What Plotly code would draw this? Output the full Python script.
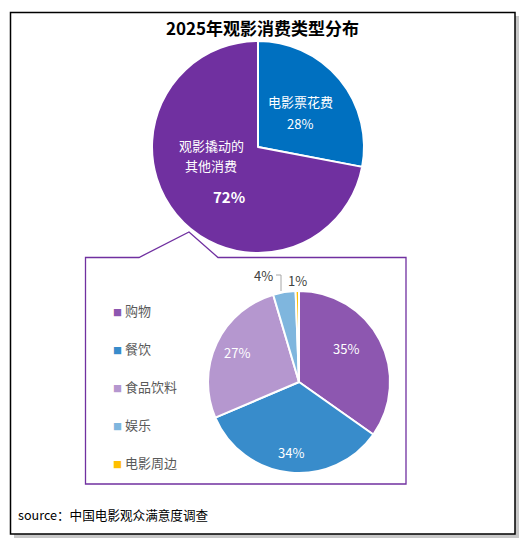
import plotly.graph_objects as go

W, H = 524, 549

# ---- data ----
main_labels = ["电影票花费", "观影撬动的<br>其他消费"]
main_values = [28, 72]
main_text = ["28%", "72%"]
main_colors = ["#0070C0", "#7030A0"]

sub_labels = ["购物", "餐饮", "食品饮料", "娱乐", "电影周边"]
sub_values = [35, 34, 27, 4, 0.6]
sub_text = ["35%", "34%", "27%", "4%", "1%"]
sub_colors = ["#8D57B0", "#388CCB", "#B597CF", "#7FB6DE", "#FFC000"]

title_text = "2025年观影消费类型分布"
source_text = "source：中国电影观众满意度调查"

FONT = "Noto Sans CJK SC, Microsoft YaHei, sans-serif"


def px(x):
    return x / W


def py(y):
    return 1 - y / H


fig = go.Figure()

# main pie
fig.add_trace(go.Pie(
    labels=main_labels, values=main_values, sort=False, direction="clockwise",
    rotation=0, marker=dict(colors=main_colors, line=dict(color="white", width=2)),
    textinfo="none", hoverinfo="label+percent", showlegend=False,
    domain=dict(x=[px(152), px(364)], y=[py(253), py(41)]),
))

# sub pie
fig.add_trace(go.Pie(
    labels=sub_labels, values=sub_values, sort=False, direction="clockwise",
    rotation=0, marker=dict(colors=sub_colors, line=dict(color="white", width=2)),
    textinfo="none", showlegend=False,
    domain=dict(x=[px(208), px(390)], y=[py(473), py(291)]),
))

# legend via dummy traces
for lab, col in zip(sub_labels, sub_colors):
    fig.add_trace(go.Scatter(
        x=[None], y=[None], mode="markers", legendgroup=lab,
        name='<span style="color:%s;font-size:9px">■</span> %s' % (col, lab),
        marker=dict(symbol="square", size=1, color="rgba(0,0,0,0)"),
    ))

shapes = []
# shadow
shapes.append(dict(type="rect", xref="paper", yref="paper",
                   x0=px(14), x1=px(519), y0=py(538), y1=py(16),
                   fillcolor="#c8c8c8", line=dict(width=0), layer="below"))
# outer frame
shapes.append(dict(type="rect", xref="paper", yref="paper",
                   x0=px(10.5), x1=px(515), y0=py(534), y1=py(12.5),
                   fillcolor="white", line=dict(color="black", width=1.5), layer="below"))
# callout box
path = "M {} {} L {} {} L {} {} L {} {} L {} {} L {} {} L {} {} Z".format(
    px(85.5), py(484), px(85.5), py(257.5), px(139), py(257.5), px(189), py(232),
    px(218), py(257.5), px(406), py(257.5), px(406), py(484))
shapes.append(dict(type="path", xref="paper", yref="paper", path=path,
                   line=dict(color="#7030A0", width=1.3), layer="below"))
# leader line for 4%
lp = "M {} {} L {} {} L {} {}".format(px(276), py(275), px(281), py(275), px(281), py(291))
shapes.append(dict(type="path", xref="paper", yref="paper", path=lp,
                   line=dict(color="#a6a6a6", width=1)))


def ann(text, x, y, size=13, color="white", xanchor="center"):
    return dict(text=text, x=px(x), y=py(y), xref="paper", yref="paper",
                xanchor=xanchor, yanchor="middle", showarrow=False, borderpad=0,
                font=dict(size=size, color=color, family=FONT))


other_lines = main_labels[1].split("<br>")

annotations = [
    ann("<b>" + title_text + "</b>", 262, 27, size=17, color="black"),
    ann(main_labels[0], 300, 102),
    ann(main_text[0], 300, 124),
    ann(other_lines[0], 211, 146),
    ann(other_lines[1], 211, 165),
    ann("<b>" + main_text[1] + "</b>", 229, 196, size=15),
    ann(sub_text[0], 346, 348),
    ann(sub_text[1], 291, 452),
    ann(sub_text[2], 237, 352),
    ann(sub_text[3], 263, 275, color="#404040"),
    ann(sub_text[4], 297, 280, color="#404040"),
    ann(source_text, 17, 514, size=12.6, color="black", xanchor="left"),
]

fig.update_layout(
    width=W, height=H, margin=dict(l=0, r=0, t=0, b=0),
    paper_bgcolor="white", plot_bgcolor="rgba(0,0,0,0)",
    xaxis=dict(visible=False), yaxis=dict(visible=False),
    shapes=shapes, annotations=annotations,
    showlegend=True,
    legend=dict(x=px(73), y=py(296), xanchor="left", yanchor="top",
                font=dict(size=13, color="#595959", family=FONT),
                tracegroupgap=18, bgcolor="rgba(0,0,0,0)", itemwidth=30),
    font=dict(family=FONT),
)

fig.write_html("out.html")
